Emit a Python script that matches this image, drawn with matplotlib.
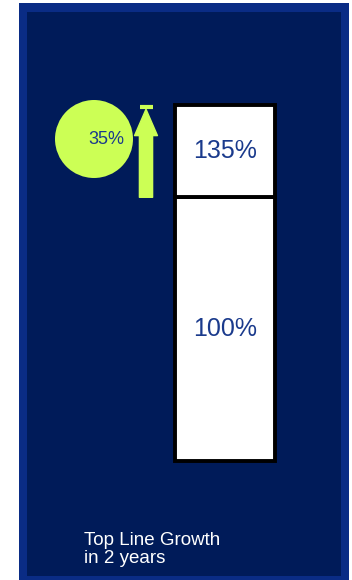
import matplotlib
matplotlib.use("Agg")
import matplotlib.pyplot as plt
from matplotlib.patches import Rectangle, Ellipse

plt.rcParams['font.family'] = ['Liberation Sans', 'DejaVu Sans']

# data
segments = ["Base", "Growth"]
segment_values = [100, 35]
segment_labels = ["100%", "135%"]
growth_label = "35%"
caption = "Top Line Growth\nin 2 years"

W, H = 352, 580
fig = plt.figure(figsize=(W / 100, H / 100), dpi=100)
fig.patch.set_facecolor("white")


def fx(px):
    return px / W


def fy(py):
    return 1 - py / H


# background panel
fig.patches.append(Rectangle((fx(19), fy(580)), fx(330), 577 / H,
                             transform=fig.transFigure, facecolor="#0a2c85",
                             edgecolor="none", zorder=-3))
fig.patches.append(Rectangle((fx(27), fy(576)), fx(314), 564 / H,
                             transform=fig.transFigure, facecolor="#001b59",
                             edgecolor="none", zorder=-2))

# stacked bar
ax = fig.add_axes([fx(125), fy(461), fx(200), (461 - 105) / H])
ax.set_zorder(1)
ax.patch.set_visible(False)
ax.set_xlim(-1, 1)
ax.set_ylim(0, sum(segment_values))
ax.axis("off")

bottom = 0
for val, lab in zip(segment_values, segment_labels):
    ax.bar(0, val, width=1, bottom=bottom, color="white", edgecolor="black",
           linewidth=2.8, clip_on=False)
    ax.text(0, bottom + val / 2, lab, ha="center", va="center",
            fontsize=18, color="#1a3a8c")
    bottom += val

# growth arrow
top = sum(segment_values)
arrow_x = -0.79
ax.annotate("", xy=(arrow_x, top - 1.6), xytext=(arrow_x, segment_values[0]),
            arrowprops=dict(arrowstyle="simple,head_length=1.9,head_width=1.65,tail_width=0.95",
                            mutation_scale=10, color="#ccff55", shrinkA=0, shrinkB=0),
            annotation_clip=False)
ax.plot([arrow_x - 0.065, arrow_x + 0.065], [top - 0.9] * 2,
        color="#ccff55", linewidth=3, solid_capstyle="butt", clip_on=False)

# growth bubble
fig.patches.append(Ellipse((fx(94), fy(139)), 78 / W, 78 / H,
                           transform=fig.transFigure, facecolor="#ccff55",
                           edgecolor="none", zorder=2))
fig.text(fx(106), fy(140), growth_label, ha="center", va="center",
         fontsize=13, color="#1a3a8c", zorder=3)

# caption
fig.text(fx(84), fy(563), caption, ha="left", va="baseline",
         fontsize=13.5, color="white", linespacing=1.05)

fig.savefig("out.png", dpi=100)
